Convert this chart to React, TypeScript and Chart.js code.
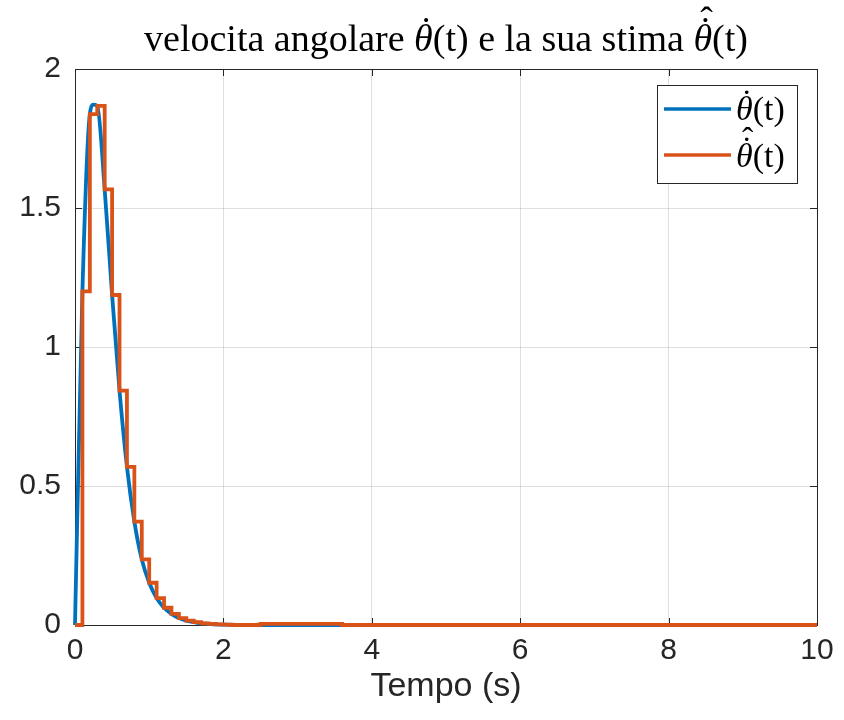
import React, { useEffect, useRef } from 'react';
import { Chart, registerables } from 'chart.js';

Chart.register(...registerables);

// ---- data ----
const X_TICKS = [0, 2, 4, 6, 8, 10];
const Y_TICKS = [0, 0.5, 1, 1.5, 2];
const X_LABEL = 'Tempo (s)';

// continuous angular velocity
const trueTime = [0, 0.1, 0.2, 0.25, 0.3, 0.4, 0.5, 0.6, 0.7, 0.8, 0.9, 1.0, 1.1, 1.2, 1.3, 1.4, 1.5, 1.6, 1.7, 1.8, 1.9, 2.0, 2.5, 10];
const trueVel = [0, 1.2, 1.838, 1.872, 1.867, 1.567, 1.187, 0.843, 0.569, 0.372, 0.236, 0.152, 0.097, 0.062, 0.04, 0.025, 0.016, 0.01, 0.006, 0.004, 0.002, 0.001, 0, 0];

// sampled (zero-order hold) estimate
const estTime = [0, 0.1, 0.2, 0.3, 0.4, 0.5, 0.6, 0.7, 0.8, 0.9, 1.0, 1.1, 1.2, 1.3, 1.4, 1.5, 1.6, 1.7, 1.8, 1.9, 2.0, 2.1, 2.5, 3.6, 10];
const estVel = [0, 1.2, 1.838, 1.867, 1.567, 1.187, 0.843, 0.569, 0.372, 0.236, 0.152, 0.097, 0.062, 0.04, 0.025, 0.016, 0.01, 0.006, 0.004, 0.002, 0.001, 0, 0.004, 0, 0];

type Part = { t: string; it?: boolean; acc?: string[] };
const TITLE_PARTS: Part[] = [
  { t: 'velocita angolare ' },
  { t: 'θ', it: true, acc: ['dot'] },
  { t: '(t) e la sua stima ' },
  { t: 'θ', it: true, acc: ['dot', 'hat'] },
  { t: '(t)' },
];
const LEGEND_TRUE: Part[] = [{ t: 'θ', it: true, acc: ['dot'] }, { t: '(t)' }];
const LEGEND_EST: Part[] = [{ t: 'θ', it: true, acc: ['dot', 'hat'] }, { t: '(t)' }];

const BLUE = '#0072BD';
const ORANGE = '#D95319';
const AX = '#262626';
const SANS = '"Liberation Sans", Arial, sans-serif';
const SERIF = '"Liberation Serif", "Times New Roman", serif';

function drawRich(ctx: CanvasRenderingContext2D, parts: Part[], x: number, baseline: number, size: number, align: 'left' | 'center') {
  const fontN = `${size}px ${SERIF}`;
  const fontI = `italic ${size}px ${SERIF}`;
  let w = 0;
  const widths = parts.map((p) => {
    ctx.font = p.it ? fontI : fontN;
    const m = ctx.measureText(p.t).width;
    w += m;
    return m;
  });
  let cx = align === 'center' ? x - w / 2 : x;
  ctx.textBaseline = 'alphabetic';
  ctx.fillStyle = '#000';
  parts.forEach((p, i) => {
    ctx.textAlign = 'left';
    ctx.font = p.it ? fontI : fontN;
    ctx.fillText(p.t, cx, baseline);
    if (p.acc) {
      ctx.font = fontN;
      ctx.textAlign = 'center';
      const ax = cx + widths[i] / 2 + size * 0.07;
      p.acc.forEach((a, k) => {
        const ch = a === 'dot' ? '\u02D9' : '\u02C6';
        ctx.fillText(ch, ax + k * size * 0.03, baseline - size * (0.2 + k * 0.28));
      });
    }
    cx += widths[i];
  });
}

const framePlugin = {
  id: 'frame',
  beforeDatasetsDraw(chart: any) {
    const { ctx, chartArea: a } = chart;
    const xs = chart.scales.x;
    const ys = chart.scales.y;
    ctx.save();
    ctx.strokeStyle = AX;
    ctx.lineWidth = 1;
    ctx.strokeRect(Math.round(a.left) + 0.5, Math.round(a.top) + 0.5, Math.round(a.right - a.left), Math.round(a.bottom - a.top));
    const L = 7;
    ctx.beginPath();
    X_TICKS.forEach((v) => {
      const px = Math.round(xs.getPixelForValue(v)) + 0.5;
      ctx.moveTo(px, a.bottom); ctx.lineTo(px, a.bottom - L);
      ctx.moveTo(px, a.top); ctx.lineTo(px, a.top + L);
    });
    Y_TICKS.forEach((v) => {
      const py = Math.round(ys.getPixelForValue(v)) + 0.5;
      ctx.moveTo(a.left, py); ctx.lineTo(a.left + L, py);
      ctx.moveTo(a.right, py); ctx.lineTo(a.right - L, py);
    });
    ctx.stroke();
    ctx.restore();
  },
  afterDatasetsDraw(chart: any) {
    const { ctx, chartArea: a } = chart;
    ctx.save();
    // title
    drawRich(ctx, TITLE_PARTS, (a.left + a.right) / 2, 51, 38, 'center');
    // legend
    const bx = 657, by = 85, bw = 140, bh = 98;
    ctx.fillStyle = '#fff';
    ctx.fillRect(bx, by, bw, bh);
    ctx.strokeStyle = AX;
    ctx.lineWidth = 1;
    ctx.strokeRect(bx + 0.5, by + 0.5, bw, bh);
    ctx.lineWidth = 3.5;
    ctx.strokeStyle = BLUE;
    ctx.beginPath(); ctx.moveTo(664, 109); ctx.lineTo(731, 109); ctx.stroke();
    ctx.strokeStyle = ORANGE;
    ctx.beginPath(); ctx.moveTo(664, 155); ctx.lineTo(731, 155); ctx.stroke();
    drawRich(ctx, LEGEND_TRUE, 736, 120, 34, 'left');
    drawRich(ctx, LEGEND_EST, 736, 167, 34, 'left');
    ctx.restore();
  },
};

export default function App() {
  const ref = useRef<HTMLCanvasElement>(null);
  useEffect(() => {
    const canvas = ref.current!;
    const chart = new Chart(canvas, {
      type: 'line',
      data: {
        datasets: [
          {
            label: 'true',
            data: trueTime.map((t, i) => ({ x: t, y: trueVel[i] })),
            borderColor: BLUE,
            borderWidth: 3.8,
            pointRadius: 0,
            cubicInterpolationMode: 'monotone',
            clip: 6,
            order: 1,
          },
          {
            label: 'est',
            data: estTime.map((t, i) => ({ x: t, y: estVel[i] })),
            borderColor: ORANGE,
            borderWidth: 3.8,
            pointRadius: 0,
            stepped: 'before',
            clip: 6,
            order: 0,
          },
        ],
      },
      options: {
        animation: false,
        responsive: false,
        devicePixelRatio: 1,
        layout: { padding: { left: 0, right: 27, top: 69, bottom: 0 } },
        plugins: { legend: { display: false }, tooltip: { enabled: false }, title: { display: false } },
        scales: {
          x: {
            type: 'linear',
            min: 0,
            max: 10,
            afterBuildTicks: (s: any) => { s.ticks = X_TICKS.map((v) => ({ value: v })); },
            afterFit: (s: any) => { s.height = 95; },
            grid: { color: 'rgba(38,38,38,0.15)', drawTicks: false },
            border: { display: false },
            ticks: { color: AX, font: { family: SANS, size: 30 }, padding: 8, maxRotation: 0, callback: (v: any) => String(v) },
            title: { display: true, text: X_LABEL, color: AX, font: { family: SANS, size: 34 }, padding: { top: 0, bottom: 13 } },
          },
          y: {
            type: 'linear',
            min: 0,
            max: 2,
            afterBuildTicks: (s: any) => { s.ticks = Y_TICKS.map((v) => ({ value: v })); },
            afterFit: (s: any) => { s.width = 75; },
            grid: { color: 'rgba(38,38,38,0.15)', drawTicks: false },
            border: { display: false },
            ticks: { color: AX, font: { family: SANS, size: 30 }, padding: 14, callback: (v: any) => String(v) },
          },
        },
      },
      plugins: [framePlugin],
    } as any);
    return () => chart.destroy();
  }, []);
  return (
    <div style={{ position: 'fixed', left: 0, top: 0, width: 844, height: 720, background: '#fff' }}>
      <canvas ref={ref} width={844} height={720} style={{ display: 'block' }} />
    </div>
  );
}
